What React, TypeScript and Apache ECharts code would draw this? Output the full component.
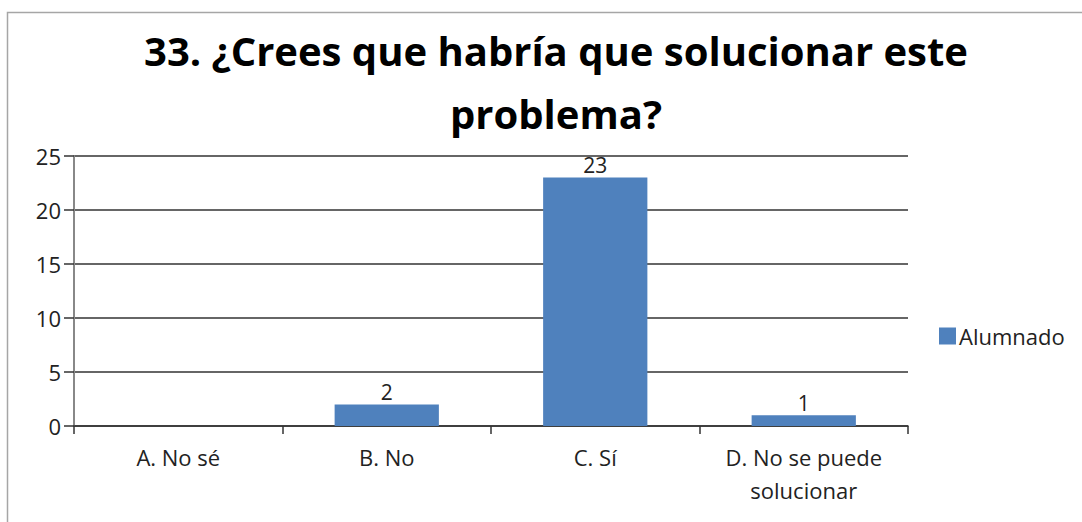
import React, { useEffect, useRef } from "react";
import * as echarts from "echarts";

const categories = ["A. No sé", "B. No", "C. Sí", "D. No se puede\nsolucionar"];
const values = [0, 2, 23, 1];
const seriesName = "Alumnado";
const titleText = "33. ¿Crees que habría que solucionar este\nproblema?";

export default function App() {
  const ref = useRef<HTMLDivElement>(null);
  useEffect(() => {
    const chart = echarts.init(ref.current!, null, { renderer: "svg" });
    const font = "'Open Sans', sans-serif";
    chart.setOption({
      animation: false,
      backgroundColor: "#fff",
      graphic: [
        {
          type: "rect",
          shape: { x: 7.5, y: 12.5, width: 1100, height: 540 },
          style: { fill: "none", stroke: "#a6a6a6", lineWidth: 1.5 },
          silent: true,
        },
      ],
      title: {
        text: titleText,
        left: 551,
        textAlign: "center",
        top: 14,
        textStyle: {
          fontFamily: font,
          fontWeight: "bold",
          fontSize: 40,
          lineHeight: 63,
          color: "#000",
        },
      },
      legend: {
        orient: "vertical",
        left: 934,
        top: 320,
        itemWidth: 17,
        itemHeight: 17,
        itemGap: 6,
        icon: "rect",
        textStyle: { fontFamily: font, fontSize: 22, color: "#222", padding: [0, 0, 0, -2] },
        data: [seriesName],
      },
      grid: { left: 74, right: 174, top: 156, bottom: 96 },
      xAxis: {
        type: "category",
        data: categories,
        axisLine: { lineStyle: { color: "#333", width: 1.5 } },
        axisTick: { show: true, length: 8, lineStyle: { color: "#333", width: 1.5 } },
        axisLabel: {
          fontFamily: font,
          fontSize: 22,
          color: "#222",
          margin: 14,
          lineHeight: 33,
          interval: 0,
        },
      },
      yAxis: {
        type: "value",
        min: 0,
        max: 25,
        interval: 5,
        axisLine: { show: true, lineStyle: { color: "#888", width: 2 } },
        axisTick: { show: true, length: 10, lineStyle: { color: "#333", width: 1.5 } },
        axisLabel: { fontFamily: font, fontSize: 22, color: "#222", margin: 13 },
        splitLine: { lineStyle: { color: "#333", width: 1.5 } },
      },
      series: [
        {
          name: seriesName,
          type: "bar",
          data: values,
          barCategoryGap: "50%",
          itemStyle: { color: "#4F81BD" },
          label: {
            show: true,
            position: "top",
            distance: 2,
            fontFamily: font,
            fontSize: 21,
            color: "#222",
            formatter: (p: any) => (p.value === 0 ? "" : String(p.value)),
          },
        },
      ],
    });
    return () => chart.dispose();
  }, []);
  return <div ref={ref} style={{ width: 1082, height: 522, position: "absolute", left: 0, top: 0 }} />;
}
